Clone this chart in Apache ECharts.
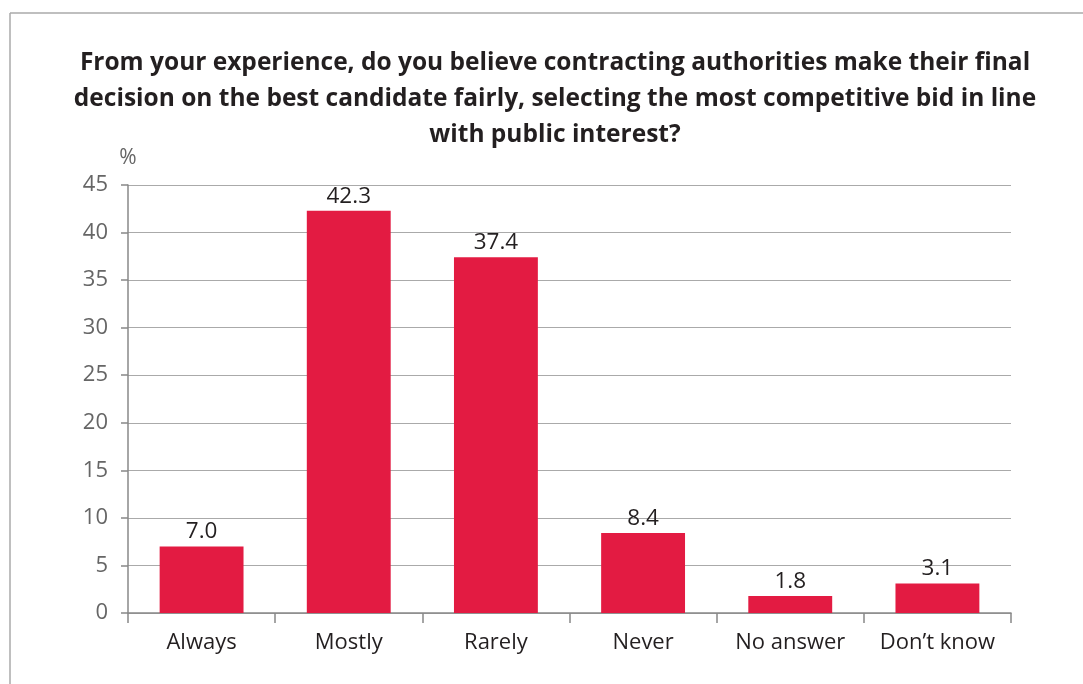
<!DOCTYPE html>
<html>
<head>
<meta charset="utf-8">
<script src="https://cdn.jsdelivr.net/npm/echarts@6/dist/echarts.min.js"></script>
<style>
  html, body { margin: 0; padding: 0; background: #fff; }
  #chart { width: 1083px; height: 684px; }
</style>
</head>
<body>
<div id="chart"></div>
<script>
// Survey answers and their shares (%)
const categories = ['Always', 'Mostly', 'Rarely', 'Never', 'No answer', 'Don\u2019t know'];
const shares = [7.0, 42.3, 37.4, 8.4, 1.8, 3.1];
const yTicks = { min: 0, max: 45, interval: 5 };

const titleText = 'From your experience, do you believe contracting authorities make their final\n' +
  'decision on the best candidate fairly, selecting the most competitive bid in line\n' +
  'with public interest?';

const FONT = '"Open Sans", "Noto Sans", sans-serif';

const chart = echarts.init(document.getElementById('chart'), null, { renderer: 'canvas' });

chart.setOption({
  backgroundColor: '#ffffff',
  animation: false,
  textStyle: { fontFamily: FONT },
  title: {
    text: titleText,
    left: 550,
    top: 40,
    textAlign: 'center',
    textStyle: {
      fontFamily: FONT,
      fontSize: 24.5,
      fontWeight: 'bold',
      color: '#231f20',
      lineHeight: 36
    }
  },
  graphic: [
    // frame lines (top and left)
    { type: 'line', shape: { x1: 10, y1: 13, x2: 1083, y2: 13 }, style: { stroke: '#aaaaaa', lineWidth: 1.5 } },
    { type: 'line', shape: { x1: 10, y1: 13, x2: 10, y2: 684 }, style: { stroke: '#aaaaaa', lineWidth: 1.5 } }
  ],
  grid: { left: 128, right: 72, top: 185, bottom: 71, containLabel: false },
  xAxis: {
    type: 'category',
    data: categories,
    axisLine: { show: true, lineStyle: { color: '#888888', width: 1.5 } },
    axisTick: { show: true, length: 10, lineStyle: { color: '#888888', width: 1.5 } },
    axisLabel: { color: '#231f20', fontSize: 22, margin: 19, interval: 0, hideOverlap: false }
  },
  yAxis: {
    type: 'value',
    min: yTicks.min,
    max: yTicks.max,
    interval: yTicks.interval,
    name: '%',
    nameLocation: 'end',
    nameGap: 16,
    nameTextStyle: { color: '#666666', fontSize: 21, align: 'center' },
    axisLine: { show: true, lineStyle: { color: '#888888', width: 1.5 } },
    axisTick: { show: true, length: 7, lineStyle: { color: '#888888', width: 1.5 } },
    axisLabel: { color: '#666666', fontSize: 22, margin: 20 },
    splitLine: { show: true, lineStyle: { color: '#aaaaaa', width: 1.2 } }
  },
  series: [{
    type: 'bar',
    data: shares,
    barWidth: '57%',
    itemStyle: { color: '#e31b42' },
    label: {
      show: true,
      position: 'top',
      distance: 3,
      color: '#231f20',
      fontSize: 22.5,
      formatter: p => p.value.toFixed(1)
    }
  }]
});
</script>
</body>
</html>
